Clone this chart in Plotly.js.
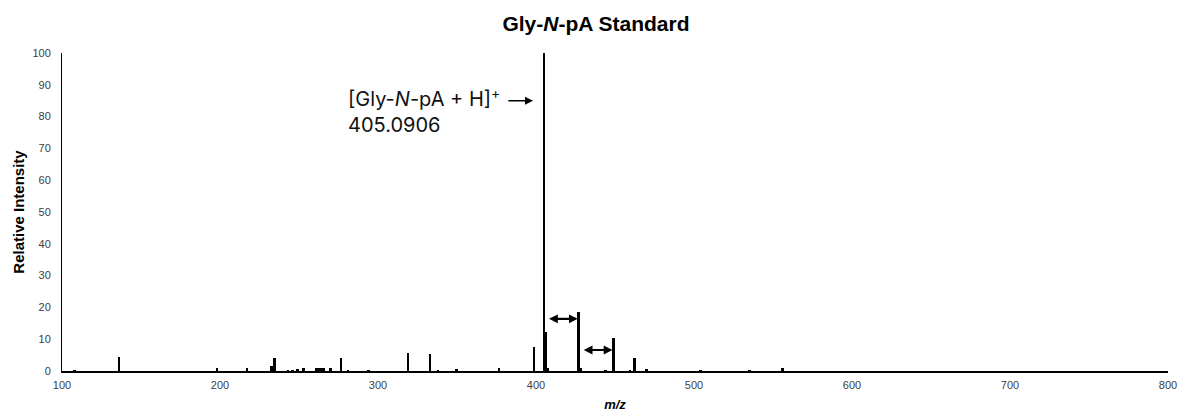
<!DOCTYPE html>
<html>
<head>
<meta charset="utf-8">
<script src="https://cdn.plot.ly/plotly-3.0.1.min.js"></script>
<style>html,body{margin:0;padding:0;background:#fff;}#chart{width:1183px;height:414px;}</style>
</head>
<body>
<div id="chart"></div>
<script>
// m/z values of peaks
var mz = [108, 136, 198, 217, 232.5, 234.5, 243, 246, 249, 253, 261, 262.5, 264, 265.5, 270, 276.5, 281, 294, 319, 333, 338, 349.5, 376.5, 398.7, 405.09, 406.1, 407.5, 427.07, 428.1, 444, 449.05, 459.5, 462.5, 470, 504, 535, 556];
// relative intensities
var intensity = [0.3, 4.3, 1.1, 0.9, 1.5, 4.0, 0.4, 0.4, 0.5, 1.0, 1.0, 1.0, 1.0, 1.0, 0.8, 4.0, 0.4, 0.3, 5.6, 5.3, 0.4, 0.6, 1.0, 7.4, 100, 12.2, 1.0, 18.6, 0.8, 0.3, 10.4, 0.3, 4.2, 0.5, 0.3, 0.3, 0.8];
// mass differences marked with double arrows
var gapStart = [405.09, 427.07];
var gapEnd = [427.07, 449.05];
var gapLevel = [16.4, 6.6];
// precursor label
var precursorMz = 405.09;
var precursorLabel = "[Gly-<i>N</i>-pA + H]<sup>+</sup><br>405.0906";
var xTicks = [100, 200, 300, 400, 500, 600, 700, 800];
var yTicks = [0, 10, 20, 30, 40, 50, 60, 70, 80, 90, 100];

var trace = {
  type: 'bar',
  x: mz,
  y: intensity,
  width: mz.map(function(){return 1.7;}),
  marker: {color: '#000000', line: {width: 0}},
  hoverinfo: 'x+y'
};

var annotations = [];
for (var i = 0; i < gapStart.length; i++) {
  annotations.push({
    x: gapEnd[i], y: gapLevel[i], xref: 'x', yref: 'y',
    ax: gapStart[i] + 0.6, ay: gapLevel[i], axref: 'x', ayref: 'y',
    showarrow: true, arrowhead: 2, arrowside: 'end+start', arrowsize: 0.8,
    arrowwidth: 2.2, arrowcolor: '#000', text: ' ', standoff: 1, startstandoff: 1
  });
}
annotations.push({
  x: 280, y: 82, xref: 'x', yref: 'y', xanchor: 'left', yanchor: 'middle',
  align: 'left', showarrow: false, text: precursorLabel,
  font: {family: 'Inter, "Noto Sans", sans-serif', size: 20, color: '#111'}
});
annotations.push({
  x: precursorMz - 7, y: 85, xref: 'x', yref: 'y',
  ax: precursorMz - 24.5, ay: 85, axref: 'x', ayref: 'y',
  showarrow: true, arrowhead: 2, arrowsize: 1, arrowwidth: 1.6, arrowcolor: '#000', text: ' '
});

var layout = {
  width: 1183, height: 414,
  margin: {l: 62, r: 15, t: 53, b: 43},
  paper_bgcolor: '#fff', plot_bgcolor: '#fff',
  showlegend: false,
  bargap: 0,
  title: {
    text: 'Gly-<i>N</i>-pA Standard',
    x: 596 / 1183, xref: 'container', xanchor: 'center',
    y: 1 - 24 / 414, yref: 'container', yanchor: 'middle',
    font: {family: '"Liberation Sans", Arial, sans-serif', size: 21, color: '#000', weight: 'bold'}
  },
  xaxis: {
    range: [100, 800], tickvals: xTicks, ticktext: xTicks.map(String),
    showgrid: false, zeroline: false, showline: true, linecolor: '#000', linewidth: 2,
    ticks: '', ticklabelstandoff: 3,
    tickfont: {family: '"Liberation Sans", Arial, sans-serif', size: 11, color: '#404040'},
    title: {text: '<i>m/z</i>', standoff: 10,
      font: {family: '"Liberation Sans", Arial, sans-serif', size: 13, color: '#000', weight: 'bold'}}
  },
  yaxis: {
    range: [0, 100], tickvals: yTicks, ticktext: yTicks.map(String),
    showgrid: false, zeroline: false, showline: true, linecolor: '#000', linewidth: 1,
    ticks: '', ticklabelstandoff: 8,
    tickfont: {family: '"Liberation Sans", Arial, sans-serif', size: 11, color: '#404040'},
    title: {text: 'Relative Intensity', standoff: 4,
      font: {family: '"Liberation Sans", Arial, sans-serif', size: 15, color: '#000', weight: 'bold'}}
  },
  annotations: annotations
};

Plotly.newPlot('chart', [trace], layout, {displayModeBar: false, staticPlot: true});
</script>
</body>
</html>
